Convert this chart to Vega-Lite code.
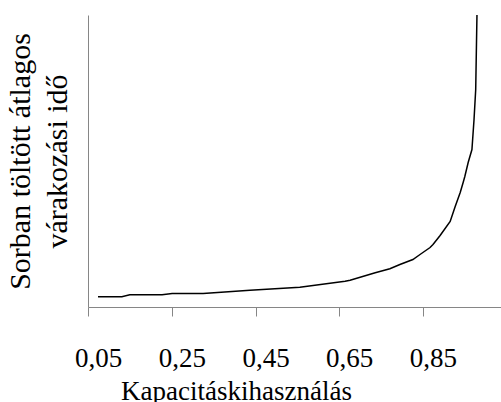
{
  "$schema": "https://vega.github.io/schema/vega-lite/v6.json",
  "autosize": "none",
  "width": 413,
  "height": 292,
  "padding": {"left": 88, "top": 15, "right": 0, "bottom": 95},
  "background": "white",
  "config": {
    "view": {"stroke": null},
    "font": "'Liberation Serif', 'DejaVu Serif', serif"
  },
  "data": {
    "values": [
      {"u": 0.050, "w": 10.2},
      {"u": 0.107, "w": 10.2},
      {"u": 0.126, "w": 12.2},
      {"u": 0.203, "w": 12.2},
      {"u": 0.227, "w": 13.5},
      {"u": 0.301, "w": 13.5},
      {"u": 0.413, "w": 16.8},
      {"u": 0.532, "w": 19.8},
      {"u": 0.640, "w": 25.8},
      {"u": 0.652, "w": 26.8},
      {"u": 0.712, "w": 34.2},
      {"u": 0.747, "w": 38.2},
      {"u": 0.771, "w": 42.5},
      {"u": 0.802, "w": 47.5},
      {"u": 0.819, "w": 52.5},
      {"u": 0.843, "w": 59.5},
      {"u": 0.850, "w": 62.5},
      {"u": 0.867, "w": 71.5},
      {"u": 0.891, "w": 85.5},
      {"u": 0.903, "w": 100.5},
      {"u": 0.915, "w": 114.5},
      {"u": 0.922, "w": 124.5},
      {"u": 0.926, "w": 130.5},
      {"u": 0.934, "w": 144.5},
      {"u": 0.943, "w": 157.5},
      {"u": 0.948, "w": 187.5},
      {"u": 0.952, "w": 217.5},
      {"u": 0.954, "w": 267.5},
      {"u": 0.955, "w": 292}
    ]
  },
  "mark": {"type": "line", "color": "black", "strokeWidth": 1.5, "clip": true},
  "encoding": {
    "x": {
      "field": "u",
      "type": "quantitative",
      "scale": {"domain": [0.0261, 1.0124], "nice": false, "zero": false},
      "axis": {
        "values": [0.05, 0.25, 0.45, 0.65, 0.85],
        "labelExpr": "replace(format(datum.value, '.2f'), '.', ',')",
        "grid": false,
        "domainColor": "#868686",
        "tickColor": "#868686",
        "tickSize": 9,
        "tickOffset": -10,
        "labelOffset": 10,
        "labelFont": "'Liberation Serif', 'DejaVu Serif', serif",
        "labelFontSize": 27,
        "labelColor": "black",
        "labelPadding": 29,
        "title": "Kapacitáskihasználás",
        "titleFont": "'Liberation Serif', 'DejaVu Serif', serif",
        "titleFontSize": 27,
        "titleFontWeight": "normal",
        "titleColor": "black",
        "titlePadding": 7,
        "titleX": 148,
        "titleAlign": "center"
      }
    },
    "y": {
      "field": "w",
      "type": "quantitative",
      "scale": {"domain": [0, 292], "nice": false},
      "axis": {
        "ticks": false,
        "labels": false,
        "grid": false,
        "domainColor": "#868686",
        "title": ["Sorban töltött átlagos", "várakozási idő"],
        "titleFont": "'Liberation Serif', 'DejaVu Serif', serif",
        "titleFontSize": 30,
        "titleFontWeight": "normal",
        "titleColor": "black",
        "titleLineHeight": 37,
        "titlePadding": 16
      }
    }
  }
}
